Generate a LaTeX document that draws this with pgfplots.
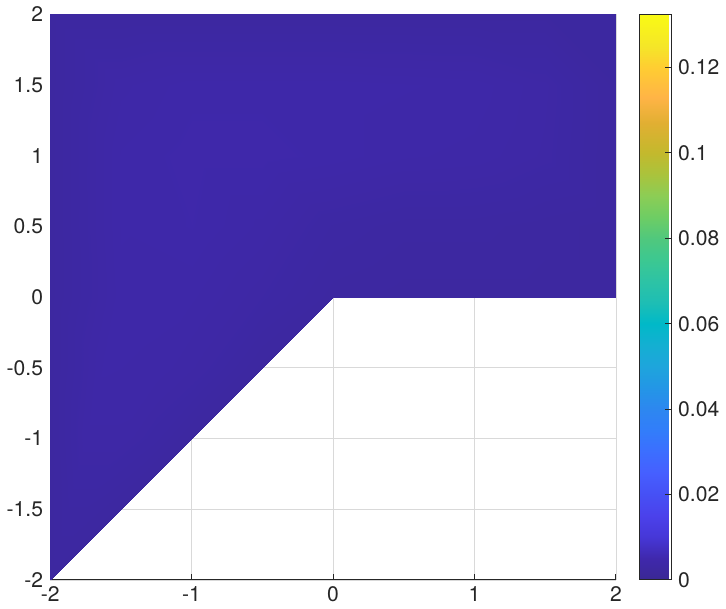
\documentclass[border=0pt]{standalone}
\usepackage{fontspec}
\setmainfont{TeX Gyre Heros}
\usepackage{pgfplots}
\usepackage{pgfplotstable}
\pgfplotsset{compat=1.18}

% parula-like map, sampled off the reference colorbar (0 .. 0.1325)
\pgfplotsset{colormap={parulaish}{
  rgb255(0pt)=(58,40,148);
  rgb255(5pt)=(63,40,172);
  rgb255(10pt)=(70,55,215);
  rgb255(15pt)=(75,65,235);
  rgb255(20pt)=(70,80,245);
  rgb255(25pt)=(70,95,255);
  rgb255(30pt)=(60,110,255);
  rgb255(35pt)=(50,125,250);
  rgb255(40pt)=(45,135,240);
  rgb255(45pt)=(35,150,230);
  rgb255(50pt)=(30,165,220);
  rgb255(55pt)=(20,175,210);
  rgb255(60pt)=(0,185,200);
  rgb255(65pt)=(30,190,180);
  rgb255(70pt)=(45,195,165);
  rgb255(75pt)=(60,200,145);
  rgb255(80pt)=(80,200,125);
  rgb255(85pt)=(110,205,100);
  rgb255(90pt)=(140,205,85);
  rgb255(95pt)=(170,195,60);
  rgb255(100pt)=(195,185,45);
  rgb255(107pt)=(225,175,50);
  rgb255(113pt)=(255,180,70);
  rgb255(120pt)=(255,205,50);
  rgb255(125pt)=(245,230,40);
  rgb255(132.5pt)=(249,250,20)
}}

% upper part, y = 0 .. 2
\pgfplotstableread{
x y c
-2 0 0.0025
-1.5 0 0.0042
-1 0 0.0041
-0.5 0 0.0035
0 0 0.0027
0.5 0 0.0025
1 0 0.0025
1.5 0 0.0025
2 0 0.0025
-2 0.5 0.0025
-1.5 0.5 0.0043
-1 0.5 0.0045
-0.5 0.5 0.0040
0 0.5 0.0032
0.5 0.5 0.0029
1 0.5 0.0029
1.5 0.5 0.0027
2 0.5 0.0025
-2 1 0.0025
-1.5 1 0.0043
-1 1 0.0046
-0.5 1 0.0046
0 1 0.0044
0.5 1 0.0041
1 1 0.0040
1.5 1 0.0036
2 1 0.0025
-2 1.5 0.0025
-1.5 1.5 0.0040
-1 1.5 0.0044
-0.5 1.5 0.0044
0 1.5 0.0044
0.5 1.5 0.0043
1 1.5 0.0042
1.5 1.5 0.0037
2 1.5 0.0025
-2 2 0.0025
-1.5 2 0.0025
-1 2 0.0025
-0.5 2 0.0025
0 2 0.0025
0.5 2 0.0025
1 2 0.0025
1.5 2 0.0025
2 2 0.0025
}\upperpart

% lower part, y = -2 .. 0, x from -2 to y
\pgfplotstableread{
x y c
-2 -2 0.0025
-2 -2 0.0025
-2 -2 0.0025
-2 -2 0.0025
-2 -2 0.0025
-2 -1.5 0.0025
-1.875 -1.5 0.0030
-1.75 -1.5 0.0030
-1.625 -1.5 0.0028
-1.5 -1.5 0.0025
-2 -1 0.0025
-1.75 -1 0.0038
-1.5 -1 0.0038
-1.25 -1 0.0033
-1 -1 0.0025
-2 -0.5 0.0025
-1.625 -0.5 0.0041
-1.25 -0.5 0.0040
-0.875 -0.5 0.0035
-0.5 -0.5 0.0025
-2 0 0.0025
-1.5 0 0.0042
-1 0 0.0041
-0.5 0 0.0035
0 0 0.0027
}\lowerpart

\begin{document}
\begin{tikzpicture}
\begin{axis}[
    scale only axis,
    width=281.5pt, height=281.5pt,
    xmin=-2, xmax=2, ymin=-2, ymax=2,
    xtick={-2,-1,...,2},
    ytick={-2,-1.5,...,2},
    grid=major,
    major grid style={line width=0.3pt, draw=black!15},
    axis x line*=bottom, axis y line*=left,
    axis line style={black!85, line width=0.45pt},
    tick align=inside, major tick length=3pt,
    tick style={black!85, line width=0.45pt},
    /pgf/number format/assume math mode=true,
    tick label style={font=\fontsize{10.5}{12}\selectfont, black!85},
    colormap name=parulaish,
    point meta min=0, point meta max=0.1325,
    colorbar,
    colorbar shift/.style={xshift=12pt},
    colorbar style={
        at={(parent axis.north east)}, anchor=north west,
        scale only axis,
        width=15.5pt,
        ytick={0,0.02,...,0.12},
        scaled y ticks=false,
        yticklabel style={/pgf/number format/fixed, /pgf/number format/precision=2,
            font=\fontsize{10.5}{12}\selectfont, black!85},
        /pgf/number format/assume math mode=true,
        ytick pos=right, yticklabel pos=right,
        tick align=inside, major tick length=3pt,
        tick style={black!85, line width=0.45pt},
        axis line style={black!85, line width=0.5pt},
    },
]
\addplot[surf, shader=interp, mesh/rows=5, mesh/cols=9, point meta=\thisrow{c}]
    table[x=x, y=y] {\upperpart};
\addplot[surf, shader=interp, mesh/rows=5, mesh/cols=5, point meta=\thisrow{c}]
    table[x=x, y=y] {\lowerpart};
\end{axis}
\end{tikzpicture}
\end{document}
